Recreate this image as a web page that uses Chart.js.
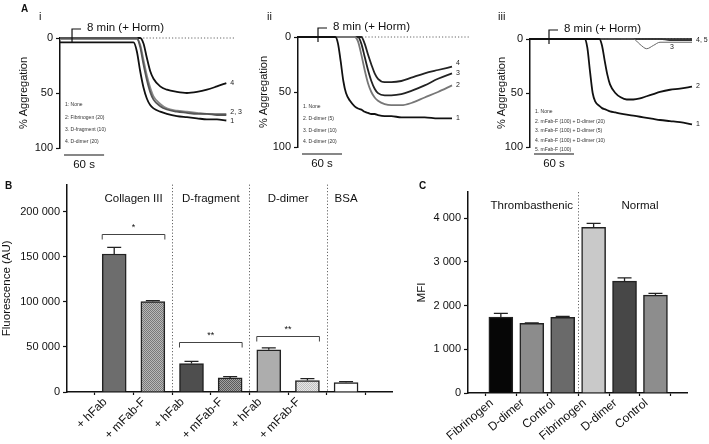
<!DOCTYPE html>
<html>
<head>
<meta charset="utf-8">
<script src="https://cdn.jsdelivr.net/npm/chart.js@4.4.0/dist/chart.umd.min.js"></script>
<style>
  body { margin: 0; background: #fff; }
  #fig { position: relative; width: 709px; height: 444px; overflow: hidden; font-family: "Liberation Sans", Arial, sans-serif; color: #111; }
  #fig canvas { position: absolute; }
  .tag { position: absolute; font-size: 11px; line-height: 11px; }
  .tag.b { font-weight: bold; font-size: 10px; line-height: 10px; }
</style>
</head>
<body>
<div id="fig">
  <canvas id="aI" width="250" height="175" style="left:0;top:0"></canvas>
  <canvas id="aII" width="240" height="175" style="left:235px;top:0"></canvas>
  <canvas id="aIII" width="239" height="175" style="left:470px;top:0"></canvas>
  <canvas id="chartB" width="405" height="269" style="left:0;top:175px"></canvas>
  <canvas id="chartC" width="309" height="269" style="left:400px;top:175px"></canvas>
  <div class="tag b" style="left:21px;top:4px">A</div>
  <div class="tag" style="left:39px;top:11px">i</div>
  <div class="tag" style="left:267px;top:11px">ii</div>
  <div class="tag" style="left:498px;top:11px">iii</div>
  <div class="tag b" style="left:5px;top:181px">B</div>
  <div class="tag b" style="left:419px;top:181px">C</div>
</div>
<script>
const FONT = '"Liberation Sans", Arial, Helvetica, sans-serif';
Chart.defaults.font.family = FONT;
Chart.defaults.color = '#111';

// ---- Panel A: aggregation traces, % aggregation against time (s) ----
const aggTicks = [0, 50, 100];

const timeI = [0, 110, 115, 120, 125, 130, 135, 140, 150, 160, 175, 190, 205, 220, 235, 249];
const iNone = [4, 4, 12, 30, 45, 55, 61, 64, 67, 69, 71, 72, 73, 74, 74, 75];
const iFibrinogen = [0, 0, 0, 8, 24, 38, 49, 56, 62, 65, 67, 68, 69, 69, 70, 70];
const iDfragment = [1, 1, 1, 6, 20, 34, 45, 53, 60, 64, 66, 67, 68, 69, 69, 69];
const iDdimer = [0, 0, 0, 0, 5, 18, 30, 37, 44, 47, 49, 50, 49, 47, 44, 41];
const legendI = ['1: None', '2: Fibrinogen (20)', '3. D-fragment (10)', '4. D-dimer (20)'];

const timeII = [0, 56, 60, 64, 68, 72, 78, 85, 90, 95, 100, 105, 110, 115, 120, 130, 140, 155, 170, 190, 210, 231];
const iiNone = [0, 0, 6, 22, 40, 51, 58, 63, 65, 66, 68, 69, 70, 70, 71, 72, 72, 73, 73, 73, 74, 74];
const iiDdimer5 = [0, 0, 0, 0, 0, 0, 0, 0, 4, 16, 30, 42, 50, 55, 58, 61, 62, 62, 60, 55, 50, 44];
const iiDdimer10 = [0, 0, 0, 0, 0, 0, 0, 0, 0, 6, 18, 30, 40, 47, 51, 53, 53, 52, 49, 44, 38, 33];
const iiDdimer20 = [0, 0, 0, 0, 0, 0, 0, 0, 0, 0, 6, 16, 25, 33, 38, 41, 41, 40, 37, 33, 30, 27];
const legendII = ['1. None', '2. D-dimer (5)', '3. D-dimer (10)', '4. D-dimer (20)'];

const timeIII = [0, 82, 86, 90, 94, 98, 104, 108, 112, 116, 120, 128, 136, 145, 155, 165, 175, 185, 195, 210, 225, 243];
const iiiNone = [0, 0, 8, 30, 50, 58, 62, 64, 65, 66, 67, 68, 69, 70, 71, 72, 73, 74, 75, 76, 77, 79];
const iiiDdimer20 = [0, 0, 0, 0, 0, 0, 0, 6, 20, 33, 42, 50, 54, 56, 56, 55, 53, 51, 49, 47, 46, 44];
const iiiDdimer5 = [0, 0, 0, 0, 0, 0, 0, 0, 0, 0, 0, 0, 0, 0, 0, 5, 9, 6, 3, 3, 3, 3];
const iiiDdimer10 = [0, 0, 0, 0, 0, 0, 0, 0, 0, 0, 0, 0, 0, 0, 0, 0, 0, 0, 0, 1, 1, 1];
const iiiMfab = [0, 0, 0, 0, 0, 0, 0, 0, 0, 0, 0, 0, 0, 0, 0, 0, 0, 0, 0, 0, 0, 0];
const legendIII = ['1. None', '2. mFab-F (100) + D-dimer (20)', '3. mFab-F (100) + D-dimer (5)',
  '4. mFab-F (100) + D-dimer (10)', '5. mFab-F (100)'];

// ---- Panel B: binding, fluorescence (AU) ----
const labelsB = ['+ hFab', '+ mFab-F', '+ hFab', '+ mFab-F', '+ hFab', '+ mFab-F', ''];
const meanB = [153000, 100300, 31500, 15600, 46900, 12800, 10500];
const semB = [7400, 1100, 2400, 1500, 2100, 2100, 900];
const groupsB = ['Collagen III', 'D-fragment', 'D-dimer', 'BSA'];
const ticksB = [0, 50000, 100000, 150000, 200000];

// ---- Panel C: MFI ----
const labelsC = ['Fibrinogen', 'D-dimer', 'Control', 'Fibrinogen', 'D-dimer', 'Control'];
const meanC = [1735, 1592, 1732, 3790, 2560, 2240];
const semC = [85, 15, 20, 90, 75, 40];
const groupsC = ['Thrombasthenic', 'Normal'];
const ticksC = [0, 1000, 2000, 3000, 4000];

const spaced = v => String(v).replace(/\B(?=(\d{3})+(?!\d))/g, ' ');

function checker(a, b) {
  const c = document.createElement('canvas');
  c.width = c.height = 2;
  const g = c.getContext('2d');
  g.fillStyle = a; g.fillRect(0, 0, 2, 2);
  g.fillStyle = b; g.fillRect(0, 0, 1, 1); g.fillRect(1, 1, 1, 1);
  return g.createPattern(c, 'repeat');
}

function traceChart(id, p) {
  return new Chart(document.getElementById(id), {
    type: 'line',
    data: {
      datasets: p.series.map((s, k) => ({
        data: p.time.map((t, i) => ({ x: t, y: s[i] })),
        borderColor: p.colors[k],
        borderWidth: p.widths[k],
        pointRadius: 0,
        cubicInterpolationMode: 'monotone',
        clip: false
      }))
    },
    options: {
      responsive: false, animation: false, devicePixelRatio: 1,
      layout: { padding: p.pad },
      plugins: { legend: { display: false }, tooltip: { enabled: false } },
      scales: {
        x: { type: 'linear', display: false, min: 0, max: p.tMax },
        y: {
          reverse: true, min: 0, max: 100,
          afterBuildTicks: s => { s.ticks = aggTicks.map(v => ({ value: v })); },
          afterFit: s => { s.width = p.yWidth; },
          ticks: { font: { size: 11 }, padding: 3, color: '#111' },
          grid: { drawOnChartArea: false, tickLength: 4, color: '#111', tickWidth: 1.2 },
          border: { color: '#111', width: 1.5 },
          title: { display: true, text: '% Aggregation', font: { size: 11 }, color: '#111', padding: { top: p.titlePad, bottom: 0 } }
        }
      }
    },
    plugins: [{
      id: 'traceExtras',
      beforeDatasetsDraw(chart) {
        const { ctx, chartArea: a, scales: { y } } = chart;
        ctx.save();
        ctx.strokeStyle = '#666'; ctx.lineWidth = 1; ctx.setLineDash([1.2, 2]);
        ctx.beginPath(); ctx.moveTo(a.left, y.getPixelForValue(0)); ctx.lineTo(a.right, y.getPixelForValue(0)); ctx.stroke();
        ctx.restore();
      },
      afterDraw(chart) {
        const { ctx, chartArea: a, scales: { x } } = chart;
        ctx.save();
        ctx.strokeStyle = '#111'; ctx.fillStyle = '#111'; ctx.lineWidth = 1.2;
        // hormone addition marker
        const hx = x.getPixelForValue(p.hormAt);
        ctx.beginPath(); ctx.moveTo(hx, a.top + 5); ctx.lineTo(hx, a.top - 9); ctx.lineTo(hx + 9, a.top - 9); ctx.stroke();
        ctx.font = '11.5px ' + FONT; ctx.textBaseline = 'middle'; ctx.textAlign = 'left';
        ctx.fillText('8 min (+ Horm)', hx + 15, a.top - 10);
        // 60 s scale bar
        const x0 = x.getPixelForValue(6), x1 = x.getPixelForValue(66);
        ctx.beginPath(); ctx.moveTo(x0, a.bottom + 7); ctx.lineTo(x1, a.bottom + 7); ctx.stroke();
        ctx.textAlign = 'center';
        ctx.fillText('60 s', (x0 + x1) / 2, a.bottom + 17);
        // condition list
        ctx.font = '5px ' + FONT; ctx.fillStyle = '#333'; ctx.textAlign = 'left';
        p.legend.forEach((t, i) => ctx.fillText(t, a.left + 5, a.top + p.legendTop + i * p.legendGap));
        // trace numbers
        ctx.font = '7px ' + FONT; ctx.fillStyle = '#222';
        p.endLabels.forEach((lab, k) => {
          if (!lab) return;
          const pts = chart.getDatasetMeta(k).data;
          const pt = pts[pts.length - 1];
          ctx.fillText(lab[0], pt.x + 4 + lab[1], pt.y + lab[2]);
        });
        ctx.restore();
      }
    }]
  });
}

traceChart('aI', {
  time: timeI, series: [iNone, iFibrinogen, iDfragment, iDdimer],
  colors: ['#111', '#555', '#888', '#111'], widths: [1.8, 1.8, 1.8, 1.8],
  tMax: 262, pad: { top: 38, right: 15, bottom: 27, left: 0 }, yWidth: 60, titlePad: 17,
  hormAt: 18, legend: legendI, legendTop: 67, legendGap: 12.3,
  endLabels: [['1', 0, 1], ['2, 3', 0, -3], null, ['4', 0, 0]]
});
traceChart('aII', {
  time: timeII, series: [iiNone, iiDdimer5, iiDdimer10, iiDdimer20],
  colors: ['#111', '#777', '#222', '#222'], widths: [1.8, 1.8, 1.8, 1.8],
  tMax: 258, pad: { top: 37, right: 5, bottom: 28, left: 0 }, yWidth: 63, titlePad: 22,
  hormAt: 30, legend: legendII, legendTop: 70, legendGap: 11.7,
  endLabels: [['1', 0, 0], ['2', 0, 0], ['3', 0, 0], ['4', 0, -4]]
});
traceChart('aIII', {
  time: timeIII, series: [iiiNone, iiiDdimer20, iiiDdimer5, iiiDdimer10, iiiMfab],
  colors: ['#111', '#111', '#666', '#333', '#111'], widths: [1.8, 1.8, 1, 1.6, 1.6],
  tMax: 244.5, pad: { top: 39, right: 16, bottom: 28, left: 0 }, yWidth: 60, titlePad: 25,
  hormAt: 28.5, legend: legendIII, legendTop: 73, legendGap: 9.5,
  endLabels: [['1', 0, 0], ['2', 0, 0], ['3', -26, 5], ['4, 5', 0, 0], null]
});

function barChart(id, p) {
  return new Chart(document.getElementById(id), {
    type: 'bar',
    data: {
      datasets: [{
        data: p.means.map((v, i) => ({ x: i, y: v })),
        backgroundColor: p.fills,
        borderColor: '#222', borderWidth: 1.5,
        barThickness: 24
      }]
    },
    options: {
      responsive: false, animation: false, devicePixelRatio: 1,
      layout: { padding: p.pad },
      plugins: { legend: { display: false }, tooltip: { enabled: false } },
      scales: {
        x: {
          type: 'linear', min: p.xMin, max: p.xMax,
          afterBuildTicks: s => { s.ticks = p.labels.map((_, i) => ({ value: i })); },
          afterFit: s => { s.height = p.xHeight; },
          ticks: { callback: v => p.labels[v], autoSkip: false, minRotation: p.rot, maxRotation: p.rot,
            labelOffset: -9, font: { size: 12 }, padding: 0, color: '#111' },
          grid: { drawOnChartArea: false, tickLength: 3, color: '#111', tickWidth: 1.2 },
          border: { color: '#111', width: 1.5 }
        },
        y: {
          min: 0, max: p.yMax,
          afterBuildTicks: s => { s.ticks = p.yTicks.map(v => ({ value: v })); },
          afterFit: s => { s.width = p.yWidth; },
          ticks: { callback: v => spaced(v), font: { size: 11 }, padding: 3, color: '#111' },
          grid: { drawOnChartArea: false, tickLength: 4, color: '#111', tickWidth: 1.2 },
          border: { color: '#111', width: 1.5 },
          title: { display: true, text: p.title, font: { size: 11.5 }, color: '#111', padding: { top: p.titlePad, bottom: 0 } }
        }
      }
    },
    plugins: [{
      id: 'barExtras',
      beforeDatasetsDraw(chart) {
        const { ctx, chartArea: a, scales: { x } } = chart;
        ctx.save();
        ctx.strokeStyle = '#666'; ctx.lineWidth = 1; ctx.setLineDash([1.2, 2]);
        p.separators.forEach(s => {
          const sx = Math.round(x.getPixelForValue(s)) + 0.5;
          ctx.beginPath(); ctx.moveTo(sx, a.top); ctx.lineTo(sx, a.bottom); ctx.stroke();
        });
        ctx.restore();
      },
      afterDatasetsDraw(chart) {
        const { ctx, chartArea: a, scales: { x, y } } = chart;
        const bars = chart.getDatasetMeta(0).data;
        ctx.save();
        ctx.strokeStyle = '#222'; ctx.lineWidth = 1.3;
        bars.forEach((b, i) => {
          const top = y.getPixelForValue(p.means[i] + p.sems[i]);
          ctx.beginPath();
          ctx.moveTo(b.x, b.y); ctx.lineTo(b.x, top);
          ctx.moveTo(b.x - 7, top); ctx.lineTo(b.x + 7, top);
          ctx.stroke();
        });
        // group names
        ctx.fillStyle = '#111'; ctx.font = '11.5px ' + FONT; ctx.textAlign = 'center'; ctx.textBaseline = 'middle';
        p.groups.forEach((g, k) => {
          const [i0, i1] = p.groupSpan[k];
          ctx.fillText(g, (bars[i0].x + bars[i1].x) / 2, a.top + 14);
        });
        // significance brackets
        ctx.strokeStyle = '#444'; ctx.lineWidth = 1;
        ctx.font = '9px ' + FONT;
        (p.brackets || []).forEach(br => {
          const l = bars[br.from].x - 12, r = bars[br.to].x + 12;
          const by = Math.round(y.getPixelForValue(br.y)) + 0.5;
          ctx.beginPath();
          ctx.moveTo(l, by + 5); ctx.lineTo(l, by); ctx.lineTo(r, by); ctx.lineTo(r, by + 5);
          ctx.stroke();
          ctx.fillText(br.text, (l + r) / 2, by - 7);
        });
        ctx.restore();
      }
    }]
  });
}

barChart('chartB', {
  labels: labelsB, means: meanB, sems: semB,
  fills: ['#6d6d6d', checker('#787878', '#b8b8b8'), '#4e4e4e', checker('#5a5a5a', '#a2a2a2'),
    '#adadad', checker('#c0c0c0', '#e8e8e8'), '#ffffff'],
  xMin: -0.621, xMax: 6.588, yMax: 230000, yTicks: ticksB, rot: 45,
  pad: { top: 8, right: 13, bottom: 0, left: 0 }, yWidth: 67, xHeight: 52,
  title: 'Fluorescence (AU)', titlePad: 0,
  groups: groupsB, groupSpan: [[0, 1], [2, 3], [4, 5], [6, 6]],
  separators: [1.5, 3.5, 5.5],
  brackets: [
    { from: 0, to: 1, y: 175000, text: '*' },
    { from: 2, to: 3, y: 56000, text: '**' },
    { from: 4, to: 5, y: 62500, text: '**' }
  ]
});

barChart('chartC', {
  labels: labelsC, means: meanC, sems: semC,
  fills: ['#060606', '#8c8c8c', '#6a6a6a', '#c9c9c9', '#474747', '#8d8d8d'],
  xMin: -0.472, xMax: 5.43, yMax: 4600, yTicks: ticksC, rot: 40,
  pad: { top: 17, right: 22, bottom: 0, left: 0 }, yWidth: 68, xHeight: 51,
  title: 'MFI', titlePad: 15,
  groups: groupsC, groupSpan: [[0, 2], [4, 5]],
  separators: [2.5]
});
</script>
</body>
</html>
